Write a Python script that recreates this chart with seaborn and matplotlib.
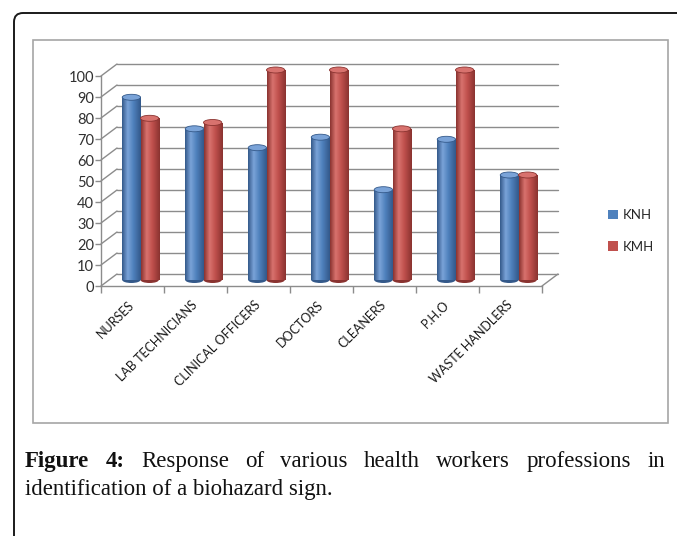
import numpy as np
import pandas as pd
import matplotlib
matplotlib.use('Agg')
import matplotlib.pyplot as plt
import matplotlib.transforms as mtrans
from matplotlib.patches import Patch, Ellipse, Rectangle, FancyBboxPatch
from matplotlib.colors import LinearSegmentedColormap
from matplotlib.lines import Line2D
import seaborn as sns

# data
professions = ['NURSES', 'LAB TECHNICIANS', 'CLINICAL OFFICERS', 'DOCTORS',
               'CLEANERS', 'P.H.O', 'WASTE HANDLERS']
knh = [87, 72, 63, 68, 43, 67, 50]
kmh = [77, 75, 100, 100, 72, 100, 50]
series = ['KNH', 'KMH']
yticks = list(range(0, 101, 10))
caption_bold = ['Figure', '4:']
caption_words = ['Response', 'of', 'various', 'health', 'workers', 'professions', 'in']
caption_line2 = 'identification of a biohazard sign.'

df = pd.DataFrame({'profession': professions * 2,
                   'hospital': ['KNH'] * len(knh) + ['KMH'] * len(kmh),
                   'percent': knh + kmh})

W, H = 677, 536
sns.set_theme(style='white')
plt.rcParams['font.family'] = ['Lato', 'DejaVu Sans']

fig = plt.figure(figsize=(W / 100, H / 100), dpi=100)
fig.patch.set_facecolor('white')

def fx(x):
    return x / W

def fy(y):
    return 1 - y / H

# page frame and chart frame (pixel coords)
pix = mtrans.IdentityTransform()
fig.patches.append(FancyBboxPatch((14, -30), 720, H - 13 + 30,
                                  boxstyle='round,pad=0,rounding_size=9',
                                  transform=pix, fill=False, edgecolor='#1a1a1a', lw=1.4))
fig.patches.append(Rectangle((33, H - 423), 635, 383, transform=pix,
                             fill=False, edgecolor='#a6a6a6', lw=1.2))

ax = fig.add_axes([fx(101), fy(286), (542 - 101) / W, (286 - 76) / H])
colors = {'KNH': '#4F81BD', 'KMH': '#C0504D'}
sns.barplot(data=df, x='profession', y='percent', hue='hospital', order=professions,
            hue_order=series, palette=colors, saturation=1, width=0.58, gap=0,
            legend=False, ax=ax, zorder=2)
ax.set_facecolor('none')

# 3D-ish depth offsets (pixels -> inches)
mid = ax.transData + mtrans.ScaledTranslation(8 / 100, 6 / 100, fig.dpi_scale_trans)
back = ax.transData + mtrans.ScaledTranslation(16 / 100, 12 / 100, fig.dpi_scale_trans)

ax.set_xlim(-0.5, len(professions) - 0.5)
ax.set_ylim(0, 100)
ypx = (286 - 76) / 100.0
eh = 6 / ypx

shades = {
    '#4F81BD': ['#34598a', '#7aa3d8', '#4F81BD', '#33588a'],
    '#C0504D': ['#8a3330', '#d8726e', '#C0504D', '#8a3330'],
}
bars = list(ax.patches)
for p in bars:
    p.set_transform(mid)
    p.set_edgecolor('none')
    p.set_clip_box(fig.bbox)
    fc = matplotlib.colors.to_hex(p.get_facecolor()).upper()
    sh = shades['#4F81BD'] if fc == '#4F81BD' else shades['#C0504D']
    cmap = LinearSegmentedColormap.from_list('cyl', list(zip([0, 0.3, 0.6, 1], sh)))
    x, w, h = p.get_x(), p.get_width(), p.get_height()
    im = ax.imshow(np.linspace(0, 1, 64).reshape(1, -1), extent=[x, x + w, 0, h],
                   cmap=cmap, aspect='auto', interpolation='bilinear', zorder=2.1)
    im.set_transform(mid)
    im.set_clip_box(fig.bbox)
    im.set_clip_path(p)
    e0 = Ellipse((x + w / 2, 0), w, eh, transform=mid, facecolor=sh[0],
                 edgecolor='none', zorder=1.9)
    e1 = Ellipse((x + w / 2, h), w, eh, transform=mid, facecolor=sh[1],
                 edgecolor=sh[0], lw=0.6, zorder=2.2)
    for e in (e0, e1):
        ax.add_patch(e)
        e.set_clip_on(False)

ax.set_xlim(-0.5, len(professions) - 0.5)
ax.set_ylim(0, 100)

# back-wall gridlines with side diagonals
grid_c = '#8c8c8c'
for v in yticks:
    ax.plot([-0.5, len(professions) - 0.5], [v, v], transform=back, color=grid_c,
            lw=1, zorder=0.5, clip_on=False)
fig.canvas.draw()
for v in yticks:
    x0, y0 = ax.transData.transform((-0.5, v))
    ax.add_artist(Line2D([x0, x0 + 16], [y0, y0 + 12], transform=pix, color=grid_c,
                         lw=1, zorder=0.5, clip_on=False))
x1, y1 = ax.transData.transform((len(professions) - 0.5, 0))
ax.add_artist(Line2D([x1, x1 + 16], [y1, y1 + 12], transform=pix, color=grid_c,
                     lw=1, zorder=0.5, clip_on=False))

for s in ['top', 'right']:
    ax.spines[s].set_visible(False)
for s in ['left', 'bottom']:
    ax.spines[s].set_color(grid_c)
    ax.spines[s].set_linewidth(1)

ax.set_yticks(yticks)
ax.set_yticklabels([str(v) for v in yticks], fontsize=10.5, color='#303030')
ax.tick_params(axis='y', left=True, length=4, width=1, color=grid_c, pad=1)
ax.set_xticks(range(len(professions)))
ax.set_xticklabels(professions, rotation=45, ha='right', va='center',
                   rotation_mode='anchor', fontsize=9, color='#1a1a1a')
ax.set_xticks(np.arange(-0.5, len(professions), 1), minor=True)
ax.tick_params(axis='x', which='major', bottom=True, length=0, pad=12)
ax.tick_params(axis='x', which='minor', bottom=True, length=5, width=1, color=grid_c)
ax.set_xlabel('')
ax.set_ylabel('')

handles = [Patch(facecolor=colors[s], edgecolor='none', label=s) for s in series]
fig.legend(handles=handles, loc='center left', bbox_to_anchor=(fx(596), fy(231)),
           frameon=False, fontsize=9.5, handlelength=0.75, handleheight=0.75,
           handletextpad=0.4, labelspacing=1.5, labelcolor='#262626')

# justified caption
serif = ['Liberation Serif', 'DejaVu Serif']
cap_size = 16.5
renderer = fig.canvas.get_renderer()
texts = []
for i, word in enumerate(caption_bold + caption_words):
    t = fig.text(0, fy(467), word, fontsize=cap_size, family=serif, va='baseline',
                 fontweight='bold' if i < len(caption_bold) else 'normal', color='#111111')
    texts.append(t)
widths = [t.get_window_extent(renderer).width for t in texts]
gap = ((665 - 25) - sum(widths)) / (len(texts) - 1)
xpos = 25
for t, wd in zip(texts, widths):
    t.set_x(fx(xpos))
    xpos += wd + gap
fig.text(fx(25), fy(495), caption_line2, fontsize=cap_size, family=serif,
         va='baseline', color='#111111')

fig.savefig('out.png', dpi=100)
